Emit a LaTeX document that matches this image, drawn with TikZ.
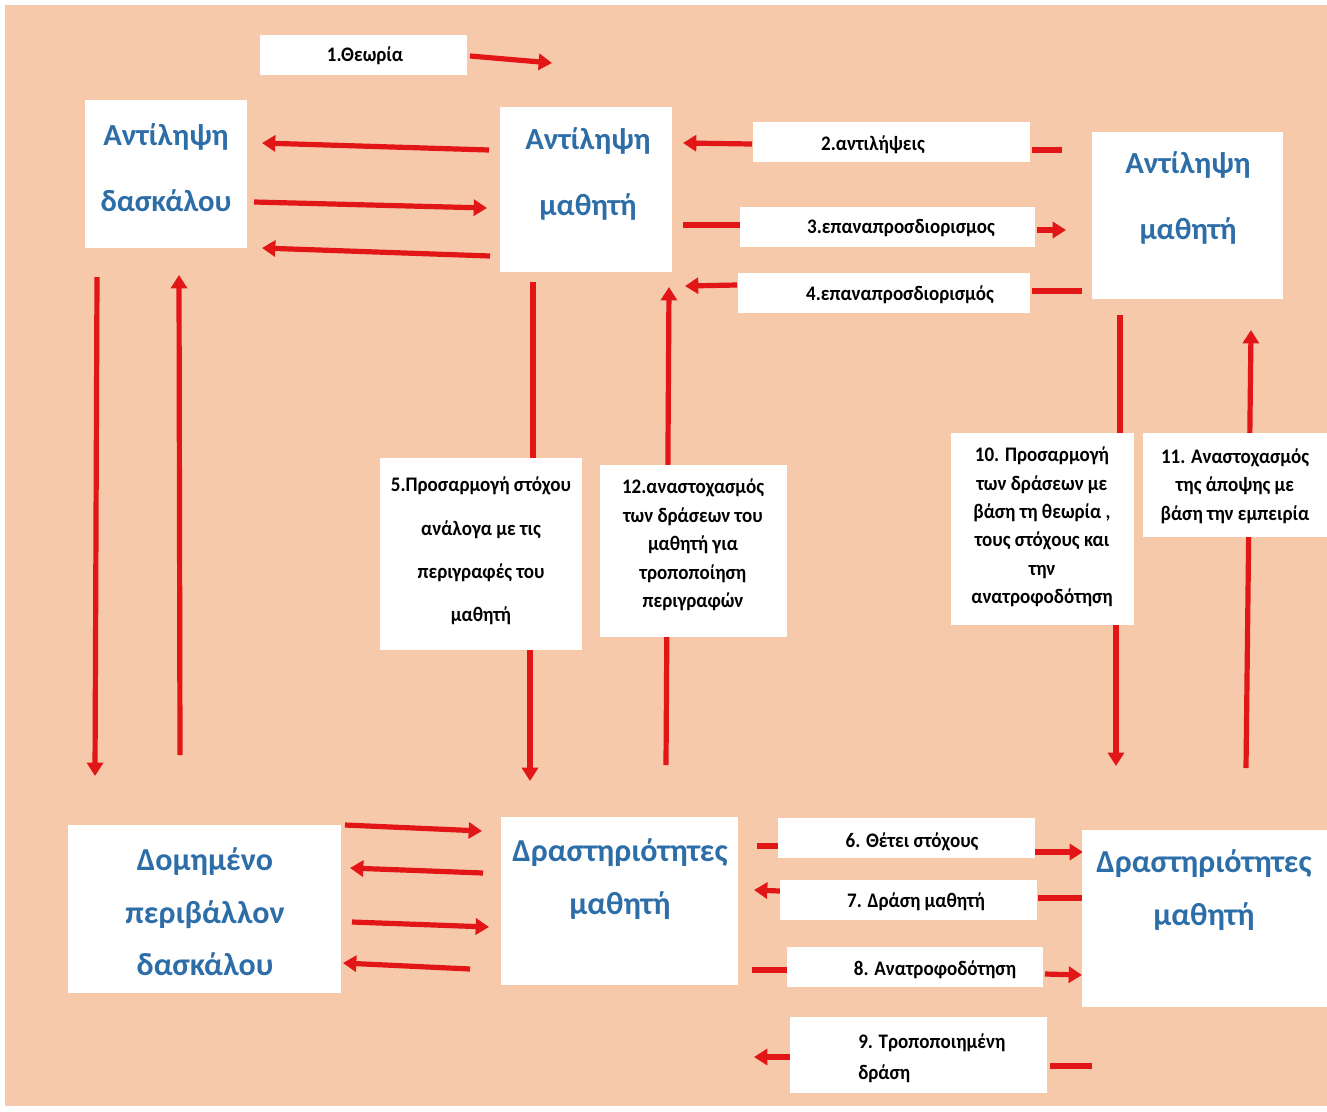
\documentclass[tikz,border=0pt]{standalone}
\usepackage{fontspec}
\setmainfont{Carlito}
\newfontfamily\lblfam[FakeStretch=0.92]{Carlito}
\usetikzlibrary{arrows.meta,fit}
\definecolor{peach}{RGB}{246,201,170}
\definecolor{bluetxt}{RGB}{46,110,168}
\definecolor{arrred}{RGB}{226,22,22}
\tikzset{
  wbox/.style={fill=white, draw=none, inner sep=0pt},
  lbl/.style={font=\lblfam\fontsize{15.5}{21.3}\selectfont\bfseries, text=black, align=center, inner sep=0pt},
  bigt/.style={font=\fontsize{23}{49.5}\selectfont\bfseries, text=bluetxt, align=center, inner sep=0pt},
  bigb/.style={font=\fontsize{24}{39.5}\selectfont\bfseries, text=bluetxt, align=center, inner sep=0pt},
  arr/.style={draw=arrred, line width=3.9pt, -{Triangle[length=10pt,width=12pt]}},
  seg/.style={draw=arrred, line width=3.9pt}
}
\begin{document}
\begin{tikzpicture}[x=0.75pt,y=-0.75pt]
\useasboundingbox (0,0) rectangle (1327,1111);
\fill[white] (0,0) rectangle (1327,1111);
\fill[peach] (5,5) rectangle (1327,1106);

% connector end points
\coordinate (a1s) at (470,56);   \coordinate (a1e) at (552,63);
\coordinate (a2s) at (489,150);  \coordinate (a2e) at (262,143);
\coordinate (a3s) at (254,202);  \coordinate (a3e) at (487,208);
\coordinate (a4s) at (490,256);  \coordinate (a4e) at (262,248);
\coordinate (a5s) at (752,144);  \coordinate (a5e) at (683,143);
\coordinate (s6s) at (1032,150); \coordinate (s6e) at (1062,150);
\coordinate (s7s) at (683,225);  \coordinate (s7e) at (740,225);
\coordinate (a8s) at (1037,230); \coordinate (a8e) at (1066,230);
\coordinate (a9s) at (737,285);  \coordinate (a9e) at (685,286);
\coordinate (s10s) at (1032,291); \coordinate (s10e) at (1082,291);
\coordinate (a11s) at (97,277);  \coordinate (a11e) at (95,776);
\coordinate (a12s) at (180,755); \coordinate (a12e) at (179,275);
\coordinate (s13s) at (533,282); \coordinate (s13e) at (533,460);
\coordinate (a14s) at (530,648); \coordinate (a14e) at (530,781);
\coordinate (a15s) at (666,765); \coordinate (a15e) at (669,287);
\coordinate (s16s) at (1120,315); \coordinate (s16e) at (1120,435);
\coordinate (a17s) at (1116,623); \coordinate (a17e) at (1116,766);
\coordinate (a18s) at (1246,768); \coordinate (a18e) at (1251,330);
\coordinate (a19s) at (345,825); \coordinate (a19e) at (482,831);
\coordinate (a20s) at (483,873); \coordinate (a20e) at (350,868);
\coordinate (a21s) at (352,922); \coordinate (a21e) at (489,927);
\coordinate (a22s) at (470,969); \coordinate (a22e) at (343,963);
\coordinate (s23s) at (757,846); \coordinate (s23e) at (778,846);
\coordinate (a24s) at (1035,852); \coordinate (a24e) at (1083,852);
\coordinate (a25s) at (780,891); \coordinate (a25e) at (754,890);
\coordinate (s26s) at (1038,898); \coordinate (s26e) at (1082,898);
\coordinate (s27s) at (752,970); \coordinate (s27e) at (787,970);
\coordinate (a28s) at (1045,974); \coordinate (a28e) at (1082,975);
\coordinate (a29s) at (790,1057); \coordinate (a29e) at (754,1057);
\coordinate (s30s) at (1050,1066); \coordinate (s30e) at (1092,1066);

% connectors (drawn first; boxes cover the parts behind them)
\draw[arr] (a1s) -- (a1e);
\draw[arr] (a2s) -- (a2e);
\draw[arr] (a3s) -- (a3e);
\draw[arr] (a4s) -- (a4e);
\draw[arr] (a5s) -- (a5e);
\draw[seg] (s6s) -- (s6e);
\draw[seg] (s7s) -- (s7e);
\draw[arr] (a8s) -- (a8e);
\draw[arr] (a9s) -- (a9e);
\draw[seg] (s10s) -- (s10e);
\draw[arr] (a11s) -- (a11e);
\draw[arr] (a12s) -- (a12e);
\draw[seg] (s13s) -- (s13e);
\draw[arr] (a14s) -- (a14e);
\draw[arr] (a15s) -- (a15e);
\draw[seg] (s16s) -- (s16e);
\draw[arr] (a17s) -- (a17e);
\draw[arr] (a18s) -- (a18e);
\draw[arr] (a19s) -- (a19e);
\draw[arr] (a20s) -- (a20e);
\draw[arr] (a21s) -- (a21e);
\draw[arr] (a22s) -- (a22e);
\draw[seg] (s23s) -- (s23e);
\draw[arr] (a24s) -- (a24e);
\draw[arr] (a25s) -- (a25e);
\draw[seg] (s26s) -- (s26e);
\draw[seg] (s27s) -- (s27e);
\draw[arr] (a28s) -- (a28e);
\draw[arr] (a29s) -- (a29e);
\draw[seg] (s30s) -- (s30e);

% boxes
\node[wbox, fit={(260,35)(467,75)}] (T1) {};
\node[wbox, fit={(85,100)(247,248)}] (A) {};
\node[wbox, fit={(500,107)(672,272)}] (B) {};
\node[wbox, fit={(1092,132)(1283,299)}] (C) {};
\node[wbox, fit={(753,122)(1030,162)}] (L2) {};
\node[wbox, fit={(740,207)(1035,247)}] (L3) {};
\node[wbox, fit={(738,273)(1030,313)}] (L4) {};
\node[wbox, fit={(380,458)(582,650)}] (L5) {};
\node[wbox, fit={(600,465)(787,637)}] (L12) {};
\node[wbox, fit={(951,433)(1134,625)}] (L10) {};
\node[wbox, fit={(1143,433)(1327,537)}] (L11) {};
\node[wbox, fit={(68,825)(341,993)}] (D) {};
\node[wbox, fit={(501,817)(738,985)}] (E) {};
\node[wbox, fit={(1082,830)(1327,1007)}] (F) {};
\node[wbox, fit={(778,818)(1035,858)}] (L6) {};
\node[wbox, fit={(780,880)(1037,920)}] (L7) {};
\node[wbox, fit={(787,947)(1043,987)}] (L8) {};
\node[wbox, fit={(790,1017)(1047,1093)}] (L9) {};

% texts
\node[lbl] (t1) at (365,56) {1.Θεωρία};
\node[bigt] (tA) at (166,168) {Αντίληψη\\δασκάλου};
\node[bigt] (tB) at (588,174) {Αντίληψη\\μαθητή};
\node[bigt] (tC) at (1188,198) {Αντίληψη\\μαθητή};
\node[lbl] (t2) at (873,145) {2.αντιλήψεις};
\node[lbl] (t3) at (901,228) {3.επαναπροσδιορισμος};
\node[lbl] (t4) at (900,295) {4.επαναπροσδιορισμός};
\node[lbl, font=\lblfam\fontsize{15.5}{32.6}\selectfont\bfseries] (t5) at (481,551) {5.Προσαρμογή στόχου\\ανάλογα με τις\\περιγραφές του\\μαθητή};
\node[lbl] (t12) at (693,545) {12.αναστοχασμός\\των δράσεων του\\μαθητή για\\τροποποίηση\\περιγραφών};
\node[lbl] (t10) at (1042,527) {10. Προσαρμογή\\των δράσεων με\\βάση τη θεωρία ,\\τους στόχους και\\την\\ανατροφοδότηση};
\node[lbl] (t11) at (1235,486) {11. Αναστοχασμός\\της άποψης με\\βάση την εμπειρία};
\node[bigb] (tD) at (205,912) {Δομημένο\\περιβάλλον\\δασκάλου};
\node[bigb] (tE) at (620,879) {Δραστηριότητες\\μαθητή};
\node[bigb] (tF) at (1204,890) {Δραστηριότητες\\μαθητή};
\node[lbl] (t6) at (912,842) {6. Θέτει στόχους};
\node[lbl] (t7) at (916,902) {7. Δράση μαθητή};
\node[lbl] (t8) at (935,970) {8. Ανατροφοδότηση};
\node[lbl, align=left, anchor=west, font=\lblfam\fontsize{15.5}{23.3}\selectfont\bfseries] (t9) at (858,1058) {9. Τροποποιημένη\\δράση};
\end{tikzpicture}
\end{document}
